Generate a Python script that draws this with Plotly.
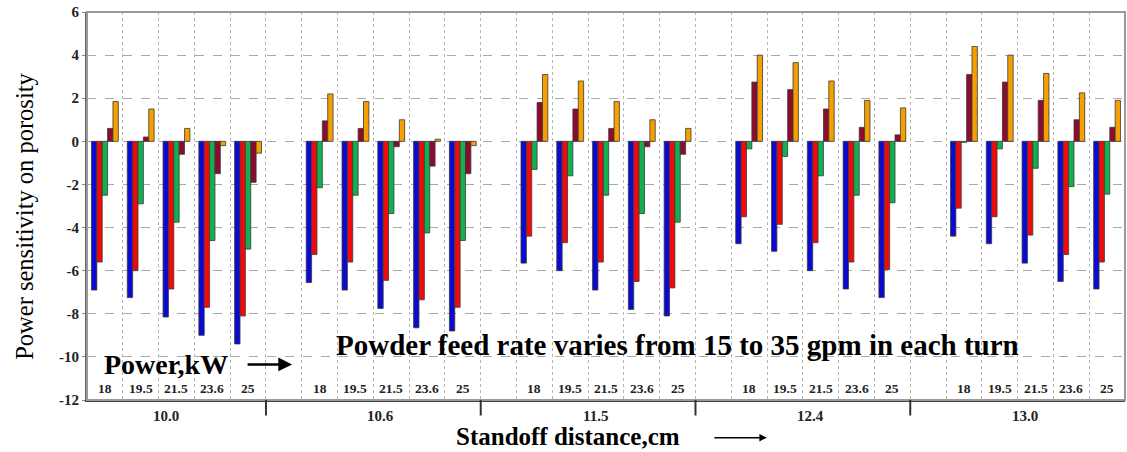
import plotly.graph_objects as go

standoff = ["10.0", "10.6", "11.5", "12.4", "13.0"]
power = ["18", "19.5", "21.5", "23.6", "25"]
feed_names = ["15 gpm", "20 gpm", "25 gpm", "30 gpm", "35 gpm"]
colors = ["#0a0ad2", "#f20a0a", "#12b050", "#8e0a2e", "#f5a000"]

feed15 = [-6.9, -7.25, -8.15, -9.0, -9.4,
          -6.55, -6.9, -7.75, -8.65, -8.8,
          -5.65, -6.0, -6.9, -7.8, -8.1,
          -4.75, -5.1, -6.0, -6.85, -7.25,
          -4.4, -4.75, -5.65, -6.5, -6.85]
feed20 = [-5.6, -6.0, -6.85, -7.7, -8.1,
          -5.25, -5.6, -6.45, -7.35, -7.7,
          -4.4, -4.7, -5.6, -6.5, -6.8,
          -3.5, -3.85, -4.7, -5.6, -5.95,
          -3.1, -3.5, -4.35, -5.25, -5.6]
feed25 = [-2.5, -2.9, -3.75, -4.6, -5.0,
          -2.15, -2.5, -3.35, -4.25, -4.6,
          -1.3, -1.6, -2.5, -3.35, -3.75,
          -0.35, -0.7, -1.6, -2.5, -2.85,
          -0.05, -0.35, -1.25, -2.1, -2.45]
feed30 = [0.6, 0.2, -0.6, -1.5, -1.9,
          0.95, 0.6, -0.25, -1.15, -1.5,
          1.8, 1.5, 0.6, -0.25, -0.6,
          2.75, 2.4, 1.5, 0.65, 0.3,
          3.1, 2.75, 1.9, 1.0, 0.65]
feed35 = [1.85, 1.5, 0.6, -0.2, -0.55,
          2.2, 1.85, 1.0, 0.1, -0.2,
          3.1, 2.8, 1.85, 1.0, 0.6,
          4.0, 3.65, 2.8, 1.9, 1.55,
          4.4, 4.0, 3.15, 2.25, 1.9]
series = [feed15, feed20, feed25, feed30, feed35]

yticks = [6, 4, 2, 0, -2, -4, -6, -8, -10, -12]

SERIF = "Liberation Serif"
npow = len(power)
slot = npow + 1  # one empty slot between standoff groups
xpos = [g * slot + p for g in range(len(standoff)) for p in range(npow)]
nslots = len(standoff) * slot - 1

fig = go.Figure()
for name, col, vals in zip(feed_names, colors, series):
    fig.add_trace(go.Bar(x=xpos, y=vals, name=name, marker_color=col,
                         marker_line_color="#3a3a3a", marker_line_width=0.8))

fig.update_layout(
    width=1127, height=452,
    margin=dict(l=87, r=2, t=12, b=52),
    paper_bgcolor="white", plot_bgcolor="white",
    barmode="group", bargap=0.25, bargroupgap=0,
    showlegend=False,
    font=dict(family=SERIF, color="black"),
)
fig.update_xaxes(
    range=[-0.5, nslots - 0.5],
    tickvals=[k - 0.5 for k in range(1, nslots)],
    showticklabels=False, ticks="",
    showgrid=True, gridcolor="#b4b4b4", griddash="dot", gridwidth=1,
    showline=True, linecolor="#444", linewidth=2,
    zeroline=False,
)
fig.update_yaxes(
    range=[-12, 6], tickvals=yticks, ticktext=["<b>%d</b>" % v for v in yticks],
    tickfont=dict(family=SERIF, size=15, color="#222"),
    ticks="outside", ticklen=3, tickcolor="#888",
    showgrid=True, gridcolor="#aaaaaa", griddash="dash", gridwidth=1,
    showline=True, linecolor="#666", linewidth=2,
    zeroline=False,
)
# top/right frame
fig.add_shape(type="rect", xref="paper", yref="paper", x0=0, x1=1, y0=0, y1=1,
              line=dict(color="#9a9a9a", width=2), layer="above")

# group separator ticks below the axis
for g in range(1, len(standoff)):
    xs = g * slot - 1.5
    fig.add_shape(type="line", xref="x", yref="paper", x0=xs, x1=xs, y0=0, y1=-0.04,
                  line=dict(color="#333", width=2))

ann = []
# power labels inside the plot
for i, xp in enumerate(xpos):
    ann.append(dict(x=xp, y=-11.45, xref="x", yref="y", text="<b>%s</b>" % power[i % npow],
                    showarrow=False, font=dict(family=SERIF, size=13.5, color="#222")))
# standoff labels
for g, s in enumerate(standoff):
    ann.append(dict(x=g * slot + (npow - 1) / 2 - 0.3, y=-0.04, xref="x", yref="paper",
                    text="<b>%s</b>" % s, showarrow=False, yanchor="middle",
                    font=dict(family=SERIF, size=15, color="#222")))
# Power,kW with arrow
ann.append(dict(x=1.72, y=-10.35, xref="x", yref="y", text="<b>Power,kW</b>", showarrow=False,
                font=dict(family=SERIF, size=28, color="black")))
ann.append(dict(x=5.23, y=-10.35, xref="x", yref="y", text="", showarrow=True,
                ax=-46, ay=0, axref="pixel", ayref="pixel",
                arrowhead=2, arrowsize=1.1, arrowwidth=2.5, arrowcolor="black"))
# feed rate note
ann.append(dict(x=16.0, y=-9.45, xref="x", yref="y",
                text="<b>Powder feed rate varies from 15 to 35 gpm in each turn</b>",
                showarrow=False, font=dict(family=SERIF, size=29, color="black")))
# x title + arrow
ann.append(dict(x=0.4635, y=-0.093, xref="paper", yref="paper", text="<b>Standoff distance,cm</b>",
                showarrow=False, yanchor="middle", font=dict(family=SERIF, size=25, color="black")))
ann.append(dict(x=0.655, y=-0.097, xref="paper", yref="paper", text="", showarrow=True,
                ax=-54, ay=0, axref="pixel", ayref="pixel",
                arrowhead=2, arrowsize=1, arrowwidth=1.5, arrowcolor="black"))
# y title
ann.append(dict(x=-0.061, y=0.474, xref="paper", yref="paper", text="Power sensitivity on porosity",
                textangle=-90, showarrow=False, xanchor="center", yanchor="middle",
                font=dict(family=SERIF, size=24.5, color="black")))
fig.update_layout(annotations=ann)

fig.write_html("out.html", post_script="document.body.style.margin='0';",
               config={"displayModeBar": False})
